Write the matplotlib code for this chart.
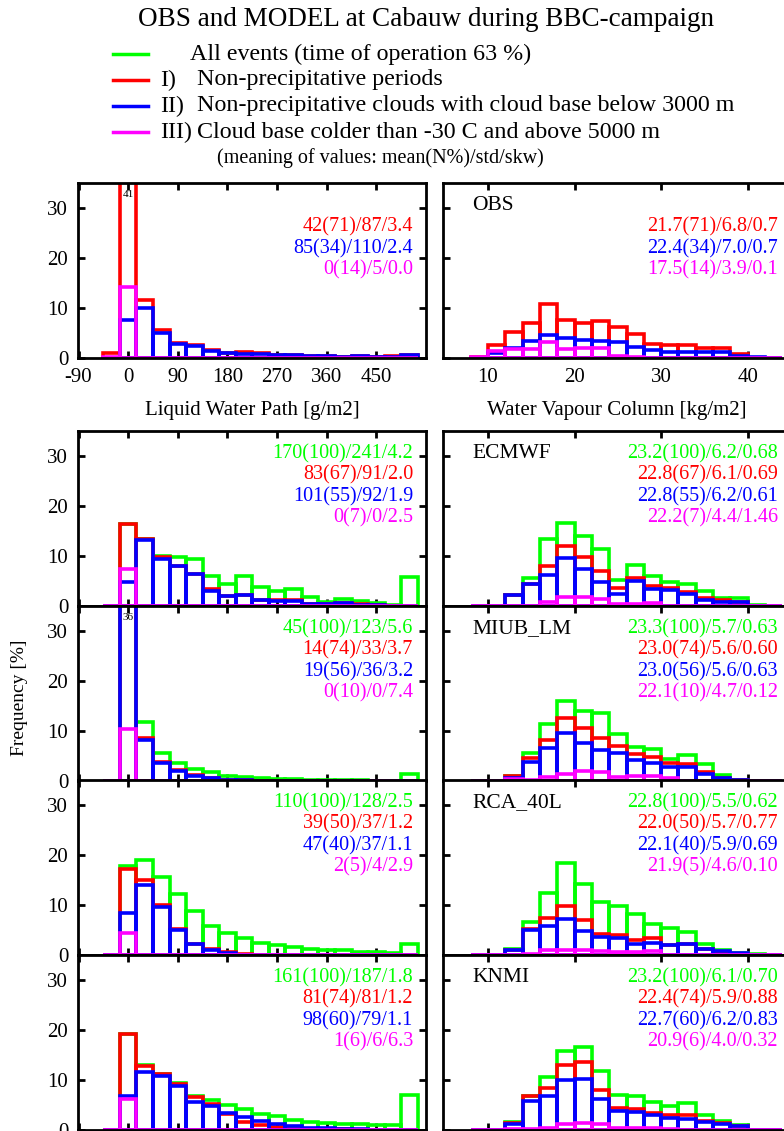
import matplotlib
matplotlib.use("Agg")
import matplotlib.pyplot as plt
import numpy as np

plt.rcParams['font.family'] = ['Liberation Serif', 'DejaVu Serif']
plt.rcParams['axes.unicode_minus'] = False

# ---------------- data ----------------
# LWP bins (centres, g/m2), width 30
lwp_centers = [-30, 0, 30, 60, 90, 120, 150, 180, 210, 240, 270, 300, 330, 360, 390, 420, 450, 480, 510]
# WVC bins (centres, kg/m2), width 2
wvc_centers = [9, 11, 13, 15, 17, 19, 21, 23, 25, 27, 29, 31, 33, 35, 37, 39, 41, 43]

models = ["OBS", "ECMWF", "MIUB_LM", "RCA_40L", "KNMI"]

# LWP frequencies [%]: all events (green), I (red), II (blue), III (magenta)
lwp_all = {
    "OBS": None,
    "ECMWF": [0, 16.5, 13.5, 10.1, 9.8, 9.5, 6.1, 4.4, 6.1, 3.8, 3.0, 3.4, 1.9, 0.9, 1.5, 1.1, 0.7, 0.3, 5.9],
    "MIUB_LM": [0, 36, 11.9, 5.6, 3.6, 2.5, 1.8, 1.1, 0.8, 0.7, 0.5, 0.4, 0.3, 0.3, 0.2, 0.2, 0.1, 0.1, 1.5],
    "RCA_40L": [0, 17.9, 19.0, 15.7, 12.3, 8.9, 5.9, 4.5, 3.5, 2.5, 2.1, 1.7, 1.2, 1.0, 1.0, 0.7, 0.7, 0.5, 2.2],
    "KNMI": [0, 19.2, 13.0, 11.3, 9.5, 6.9, 6.1, 5.1, 4.2, 3.3, 2.9, 2.0, 1.7, 1.5, 1.3, 1.3, 1.1, 1.0, 7.1],
}
lwp_I = {
    "OBS": [1.1, 41, 11.7, 5.6, 3.0, 2.6, 1.6, 1.1, 1.3, 1.0, 0.7, 0.7, 0.5, 0.4, 0.2, 0.4, 0.2, 0.4, 0.6],
    "ECMWF": [0, 16.5, 13.5, 9.8, 8.1, 6.5, 3.4, 2.0, 2.3, 1.3, 1.2, 1.2, 0.5, 0.5, 0.6, 0.4, 0.3, 0.1, 0.1],
    "MIUB_LM": [0, 36, 8.7, 3.8, 2.2, 1.2, 0.6, 0.3, 0.2, 0.1, 0.1, 0, 0, 0, 0, 0, 0, 0, 0],
    "RCA_40L": [0, 17.2, 15.0, 10.0, 5.3, 2.3, 1.2, 0.6, 0.2, 0, 0, 0, 0, 0, 0, 0, 0, 0, 0],
    "KNMI": [0, 19.2, 12.9, 11.2, 9.3, 6.7, 5.2, 3.2, 1.6, 1.0, 0.6, 0.3, 0.2, 0.2, 0.2, 0.1, 0, 0, 0],
}
lwp_II = {
    "OBS": [0, 7.7, 10.1, 5.0, 2.8, 2.35, 1.5, 1.0, 0.9, 0.8, 0.7, 0.7, 0.4, 0.4, 0.2, 0.4, 0.2, 0.2, 0.6],
    "ECMWF": [0, 4.9, 13.2, 9.5, 8.0, 6.5, 3.1, 2.0, 2.3, 1.2, 1.1, 1.1, 0.4, 0.4, 0.6, 0.3, 0.2, 0.1, 0.1],
    "MIUB_LM": [0, 36, 8.3, 3.6, 2.0, 1.1, 0.6, 0.3, 0.2, 0.1, 0, 0, 0, 0, 0, 0, 0, 0, 0],
    "RCA_40L": [0, 8.5, 14.0, 9.7, 5.0, 2.2, 1.0, 0.5, 0.1, 0, 0, 0, 0, 0, 0, 0, 0, 0, 0],
    "KNMI": [0, 6.9, 11.6, 10.8, 8.8, 5.7, 4.9, 3.5, 2.7, 1.8, 1.3, 0.8, 0.5, 0.4, 0.3, 0.2, 0, 0, 0],
}
lwp_III = {
    "OBS": [0.3, 14.2, 0, 0, 0, 0, 0, 0, 0, 0, 0, 0, 0, 0, 0, 0, 0, 0, 0],
    "ECMWF": [0, 7.5, 0, 0, 0, 0, 0, 0, 0, 0, 0, 0, 0, 0, 0, 0, 0, 0, 0],
    "MIUB_LM": [0, 10.4, 0, 0, 0, 0, 0, 0, 0, 0, 0, 0, 0, 0, 0, 0, 0, 0, 0],
    "RCA_40L": [0, 4.5, 0, 0, 0, 0, 0, 0, 0, 0, 0, 0, 0, 0, 0, 0, 0, 0, 0],
    "KNMI": [0, 6.3, 0, 0, 0, 0, 0, 0, 0, 0, 0, 0, 0, 0, 0, 0, 0, 0, 0],
}

wvc_all = {
    "OBS": None,
    "ECMWF": [0, 0, 2.2, 5.7, 13.5, 16.6, 14.0, 11.5, 5.3, 8.3, 6.1, 4.9, 4.4, 3.1, 1.7, 1.7, 0.2, 0],
    "MIUB_LM": [0, 0, 1.0, 5.6, 11.4, 16.1, 14.1, 13.6, 9.4, 6.8, 6.4, 4.5, 5.2, 3.4, 1.2, 0.3, 0, 0.1],
    "RCA_40L": [0, 0, 1.2, 6.7, 12.5, 18.5, 14.3, 10.7, 9.9, 8.2, 6.2, 5.5, 4.7, 2.3, 1.0, 0.5, 0.3, 0],
    "KNMI": [0, 0, 1.7, 6.9, 10.7, 15.8, 16.6, 11.9, 7.1, 6.8, 5.6, 4.8, 5.4, 3.1, 1.8, 1.0, 0.1, 0],
}
wvc_I = {
    "OBS": [0.3, 2.7, 5.2, 7.0, 10.8, 7.6, 7.0, 7.4, 6.2, 4.8, 2.8, 2.7, 2.6, 2.0, 2.0, 0.8, 0.1, 0],
    "ECMWF": [0, 0, 2.2, 4.4, 8.1, 12.0, 9.8, 7.1, 3.6, 5.6, 4.1, 3.6, 2.8, 1.7, 1.2, 0.9, 0, 0],
    "MIUB_LM": [0, 0, 1.0, 4.7, 8.3, 12.6, 10.6, 8.7, 7.0, 5.5, 4.9, 3.6, 3.4, 1.9, 0.7, 0.2, 0, 0],
    "RCA_40L": [0, 0, 1.0, 5.3, 7.5, 9.9, 7.0, 4.3, 4.1, 3.0, 3.5, 2.0, 2.3, 1.3, 0.5, 0.2, 0, 0],
    "KNMI": [0, 0, 1.5, 6.8, 8.5, 13.0, 13.7, 8.1, 4.4, 4.2, 3.5, 3.0, 3.0, 1.8, 1.5, 0.8, 0, 0],
}
wvc_II = {
    "OBS": [0, 1.0, 2.1, 3.4, 4.7, 4.0, 3.6, 3.5, 3.2, 2.3, 1.7, 1.3, 1.2, 1.2, 1.2, 0.4, 0.2, 0.1],
    "ECMWF": [0, 0, 2.2, 4.4, 6.3, 9.6, 7.5, 4.9, 2.4, 5.1, 3.4, 3.2, 2.4, 1.2, 0.9, 0.9, 0, 0],
    "MIUB_LM": [0, 0, 0.6, 3.9, 6.6, 9.7, 7.6, 6.2, 5.6, 4.2, 3.6, 2.9, 2.9, 1.5, 0.7, 0.2, 0, 0],
    "RCA_40L": [0, 0, 1.0, 5.0, 5.8, 7.2, 4.9, 3.7, 3.5, 2.3, 2.5, 2.0, 2.2, 1.3, 0.8, 0.5, 0.1, 0],
    "KNMI": [0, 0, 1.2, 5.8, 6.8, 10.0, 10.3, 6.3, 3.9, 3.7, 3.1, 2.4, 2.3, 1.7, 1.3, 0.8, 0, 0],
}
wvc_III = {
    "OBS": [0.2, 1.5, 1.8, 1.8, 3.2, 1.8, 2.1, 2.0, 0.4, 0.2, 0.1, 0, 0, 0, 0, 0, 0, 0],
    "ECMWF": [0, 0, 0, 0, 0.9, 1.75, 1.75, 1.4, 0.4, 0.4, 0.7, 0, 0, 0, 0, 0, 0, 0],
    "MIUB_LM": [0, 0, 0.5, 0.2, 0.8, 1.5, 2.1, 1.9, 0.8, 1.0, 1.0, 0.7, 0.1, 0, 0, 0, 0, 0],
    "RCA_40L": [0, 0, 0, 0.2, 1.1, 1.0, 1.0, 0.8, 0.6, 0.6, 0.8, 0, 0, 0, 0, 0, 0, 0],
    "KNMI": [0, 0, 0.3, 0.3, 0.5, 1.2, 1.5, 1.2, 0.4, 0.4, 0.4, 0.2, 0, 0, 0, 0, 0, 0],
}

lwp_stats = {
    "OBS": [None, "42(71)/87/3.4", "85(34)/110/2.4", "0(14)/5/0.0"],
    "ECMWF": ["170(100)/241/4.2", "83(67)/91/2.0", "101(55)/92/1.9", "0(7)/0/2.5"],
    "MIUB_LM": ["45(100)/123/5.6", "14(74)/33/3.7", "19(56)/36/3.2", "0(10)/0/7.4"],
    "RCA_40L": ["110(100)/128/2.5", "39(50)/37/1.2", "47(40)/37/1.1", "2(5)/4/2.9"],
    "KNMI": ["161(100)/187/1.8", "81(74)/81/1.2", "98(60)/79/1.1", "1(6)/6/6.3"],
}
wvc_stats = {
    "OBS": [None, "21.7(71)/6.8/0.7", "22.4(34)/7.0/0.7", "17.5(14)/3.9/0.1"],
    "ECMWF": ["23.2(100)/6.2/0.68", "22.8(67)/6.1/0.69", "22.8(55)/6.2/0.61", "22.2(7)/4.4/1.46"],
    "MIUB_LM": ["23.3(100)/5.7/0.63", "23.0(74)/5.6/0.60", "23.0(56)/5.6/0.63", "22.1(10)/4.7/0.12"],
    "RCA_40L": ["22.8(100)/5.5/0.62", "22.0(50)/5.7/0.77", "22.1(40)/5.9/0.69", "21.9(5)/4.6/0.10"],
    "KNMI": ["23.2(100)/6.1/0.70", "22.4(74)/5.9/0.88", "22.7(60)/6.2/0.83", "20.9(6)/4.0/0.32"],
}

legend_labels = [("", "All events (time of operation 63 %)"),
                 ("I)", "Non-precipitative periods"),
                 ("II)", "Non-precipitative clouds with cloud base below 3000 m"),
                 ("III)", "Cloud base colder than -30 C and above 5000 m")]
colors = ["#00ff00", "#ff0000", "#0000ff", "#ff00ff"]

# ---------------- figure ----------------
W, H = 784, 1131
fig = plt.figure(figsize=(W / 100, H / 100), dpi=100)


def fx(px):
    return px / W


def fy(py):
    return 1 - py / H


YMAX = 35
row_tops = [183, 431, 606, 780, 955]
row_h = 175
left_x0, right_x0, ax_w = 78, 443, 348
FS = 14.5
lw_bar = 2.6


def draw_hist(ax, centers, width, series_list):
    for vals, c in zip(series_list, colors):
        if vals is None:
            continue
        ax.bar(centers, vals, width=width, fill=False, edgecolor=c,
               linewidth=lw_bar, align='center', zorder=2)


def style(ax):
    for s in ax.spines.values():
        s.set_linewidth(2.0)
        s.set_zorder(5)
    ax.tick_params(direction='in', length=5, width=2, top=True, right=True,
                   labelsize=15, pad=7)


for r, m in enumerate(models):
    top = row_tops[r]
    # left: LWP
    axl = fig.add_axes([fx(left_x0), fy(top + row_h), fx(ax_w), row_h / H])
    series = [lwp_all[m], lwp_I[m], lwp_II[m], lwp_III[m]]
    draw_hist(axl, lwp_centers, 30, series)
    axl.set_xlim(-91, 540)
    axl.set_ylim(0, YMAX)
    axl.set_xticks([-90, 0, 90, 180, 270, 360, 450])
    axl.set_yticks([0, 10, 20, 30])
    style(axl)
    if r != 0:
        axl.set_xticklabels([])
    # label for bars clipped at the top of the panel
    maxv = max(max(s) for s in series if s is not None)
    if maxv > YMAX:
        idx = None
        for s in series:
            if s is not None:
                for i, v in enumerate(s):
                    if v > YMAX:
                        idx = i
        axl.text(lwp_centers[idx], YMAX - 2.4, f"{int(round(maxv))}", ha='center',
                 va='center', fontsize=8, zorder=6)
    for i, (txt, c) in enumerate(zip(lwp_stats[m], colors)):
        if txt is None:
            continue
        fig.text(fx(413), fy(top + 23 + 21.3 * i), txt, color=c, ha='right',
                 va='center', fontsize=FS)

    # right: WVC
    axr = fig.add_axes([fx(right_x0), fy(top + row_h), fx(ax_w), row_h / H])
    series = [wvc_all[m], wvc_I[m], wvc_II[m], wvc_III[m]]
    draw_hist(axr, wvc_centers, 2, series)
    axr.set_xlim(4.8, 45.0)
    axr.set_ylim(0, YMAX)
    axr.set_xticks([10, 20, 30, 40])
    axr.set_yticks([0, 10, 20, 30])
    style(axr)
    axr.set_yticklabels([])
    if r != 0:
        axr.set_xticklabels([])
    fig.text(fx(472), fy(top + 23), m, ha='left', va='center', fontsize=15.5)
    for i, (txt, c) in enumerate(zip(wvc_stats[m], colors)):
        if txt is None:
            continue
        fig.text(fx(778), fy(top + 23 + 21.3 * i), txt, color=c, ha='right',
                 va='center', fontsize=FS)

# axis labels
fig.text(fx(252), fy(410), "Liquid Water Path [g/m2]", ha='center', va='center', fontsize=15)
fig.text(fx(617), fy(410), "Water Vapour Column [kg/m2]", ha='center', va='center', fontsize=15)
fig.text(fx(20), fy(698), "Frequency [%]", ha='center', va='center', rotation=90, fontsize=14)

# title
fig.text(fx(426), fy(19), "OBS and MODEL at Cabauw during BBC-campaign", ha='center',
         va='center', fontsize=19.5)

# legend
leg_y = [54, 80, 106, 132]
for (pre, txt), c, yy in zip(legend_labels, colors, leg_y):
    fig.add_artist(plt.Line2D([fx(113), fx(148)], [fy(yy), fy(yy)], color=c, linewidth=2.5))
    if pre:
        fig.text(fx(160), fy(yy), pre, ha='left', va='center', fontsize=17.3)
        fig.text(fx(197), fy(yy), txt, ha='left', va='center', fontsize=17.3)
    else:
        fig.text(fx(190), fy(yy), txt, ha='left', va='center', fontsize=17.3)
fig.text(fx(217), fy(158), "(meaning of values: mean(N%)/std/skw)", ha='left',
         va='center', fontsize=14.5)

fig.savefig("out.png", dpi=100)
